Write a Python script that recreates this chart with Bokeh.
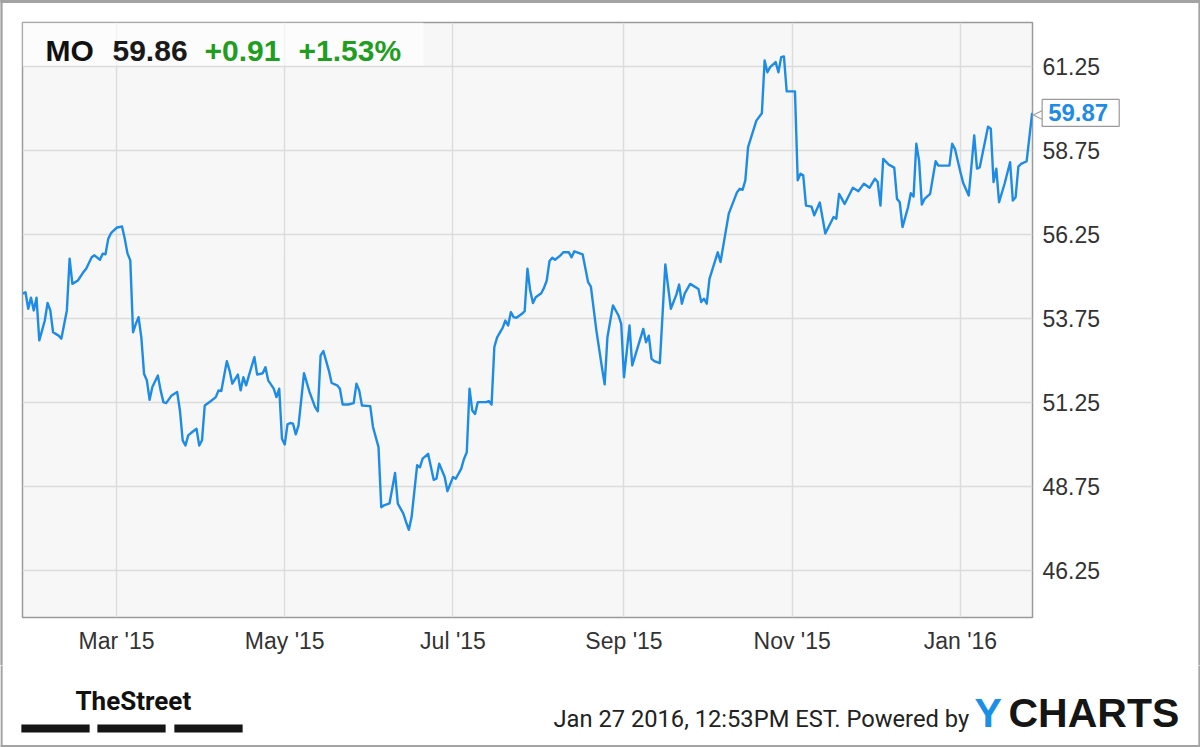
import pandas as pd
from bokeh.plotting import figure
from bokeh.layouts import column
from bokeh.models import (Range1d, FixedTicker, NumeralTickFormatter, Label,
                          BoxAnnotation, ColumnDataSource)
from bokeh.embed import file_html
from bokeh.resources import INLINE

# ---------------- data ----------------
dates = [
    "2015-01-26", "2015-01-27", "2015-01-28", "2015-01-29", "2015-01-30", "2015-01-31",
    "2015-02-01", "2015-02-02", "2015-02-03", "2015-02-04", "2015-02-05", "2015-02-06",
    "2015-02-08", "2015-02-09", "2015-02-11", "2015-02-12", "2015-02-13", "2015-02-15",
    "2015-02-17", "2015-02-18", "2015-02-20", "2015-02-21", "2015-02-23", "2015-02-24",
    "2015-02-25", "2015-02-26", "2015-02-27", "2015-03-01", "2015-03-03", "2015-03-04",
    "2015-03-05", "2015-03-06", "2015-03-07", "2015-03-08", "2015-03-09", "2015-03-10",
    "2015-03-11", "2015-03-12", "2015-03-13", "2015-03-14", "2015-03-16", "2015-03-17",
    "2015-03-18", "2015-03-19", "2015-03-21", "2015-03-23", "2015-03-24", "2015-03-25",
    "2015-03-26", "2015-03-27", "2015-03-28", "2015-03-30", "2015-03-31", "2015-04-01",
    "2015-04-02", "2015-04-04", "2015-04-06", "2015-04-07", "2015-04-08", "2015-04-10",
    "2015-04-11", "2015-04-12", "2015-04-14", "2015-04-15", "2015-04-16", "2015-04-17",
    "2015-04-18", "2015-04-20", "2015-04-21", "2015-04-23", "2015-04-24", "2015-04-25",
    "2015-04-27", "2015-04-28", "2015-04-29", "2015-04-30", "2015-05-01", "2015-05-02",
    "2015-05-03", "2015-05-04", "2015-05-05", "2015-05-06", "2015-05-08", "2015-05-10",
    "2015-05-12", "2015-05-13", "2015-05-14", "2015-05-15", "2015-05-17", "2015-05-18",
    "2015-05-20", "2015-05-21", "2015-05-22", "2015-05-24", "2015-05-26", "2015-05-27",
    "2015-05-28", "2015-05-29", "2015-06-01", "2015-06-02", "2015-06-04", "2015-06-05",
    "2015-06-06", "2015-06-08", "2015-06-10", "2015-06-11", "2015-06-13", "2015-06-14",
    "2015-06-15", "2015-06-16", "2015-06-18", "2015-06-19", "2015-06-20", "2015-06-22",
    "2015-06-24", "2015-06-25", "2015-06-26", "2015-06-28", "2015-06-29", "2015-07-01",
    "2015-07-02", "2015-07-04", "2015-07-05", "2015-07-06", "2015-07-07", "2015-07-08",
    "2015-07-09", "2015-07-10", "2015-07-13", "2015-07-14", "2015-07-15", "2015-07-16",
    "2015-07-17", "2015-07-19", "2015-07-20", "2015-07-21", "2015-07-22", "2015-07-23",
    "2015-07-24", "2015-07-26", "2015-07-27", "2015-07-28", "2015-07-29", "2015-07-30",
    "2015-07-31", "2015-08-02", "2015-08-03", "2015-08-04", "2015-08-05", "2015-08-06",
    "2015-08-07", "2015-08-09", "2015-08-10", "2015-08-12", "2015-08-13", "2015-08-14",
    "2015-08-15", "2015-08-17", "2015-08-19", "2015-08-20", "2015-08-22", "2015-08-24",
    "2015-08-25", "2015-08-26", "2015-08-28", "2015-08-30", "2015-08-31", "2015-09-01",
    "2015-09-03", "2015-09-04", "2015-09-06", "2015-09-08", "2015-09-09", "2015-09-10",
    "2015-09-11", "2015-09-12", "2015-09-14", "2015-09-16", "2015-09-18", "2015-09-20",
    "2015-09-21", "2015-09-22", "2015-09-23", "2015-09-25", "2015-09-28", "2015-09-29",
    "2015-09-30", "2015-10-01", "2015-10-02", "2015-10-05", "2015-10-06", "2015-10-09",
    "2015-10-12", "2015-10-13", "2015-10-14", "2015-10-15", "2015-10-16", "2015-10-19",
    "2015-10-21", "2015-10-22", "2015-10-23", "2015-10-24", "2015-10-26", "2015-10-27",
    "2015-10-28", "2015-10-29", "2015-10-30", "2015-11-02", "2015-11-03", "2015-11-04",
    "2015-11-05", "2015-11-06", "2015-11-08", "2015-11-09", "2015-11-11", "2015-11-13",
    "2015-11-16", "2015-11-17", "2015-11-18", "2015-11-20", "2015-11-23", "2015-11-25",
    "2015-11-27", "2015-11-29", "2015-12-01", "2015-12-02", "2015-12-03", "2015-12-04",
    "2015-12-06", "2015-12-08", "2015-12-09", "2015-12-10", "2015-12-11", "2015-12-13",
    "2015-12-14", "2015-12-15", "2015-12-16", "2015-12-17", "2015-12-18", "2015-12-19",
    "2015-12-21", "2015-12-23", "2015-12-24", "2015-12-28", "2015-12-29", "2015-12-30",
    "2016-01-01", "2016-01-02", "2016-01-04", "2016-01-06", "2016-01-07", "2016-01-08",
    "2016-01-11", "2016-01-12", "2016-01-13", "2016-01-14", "2016-01-15", "2016-01-17",
    "2016-01-19", "2016-01-20", "2016-01-21", "2016-01-22", "2016-01-23", "2016-01-25",
    "2016-01-27",
]
prices = [
    54.49, 54.53, 54.04, 54.37, 53.99, 54.37,
    53.10, 53.39, 53.69, 54.21, 53.99, 53.34,
    53.24, 53.15, 53.99, 55.53, 54.78, 54.88,
    55.13, 55.23, 55.57, 55.63, 55.50, 55.68,
    55.66, 56.12, 56.29, 56.45, 56.49, 56.12,
    55.68, 55.48, 53.34, 53.59, 53.79, 53.19,
    52.10, 51.91, 51.33, 51.71, 52.05, 51.61,
    51.26, 51.23, 51.46, 51.56, 51.01, 50.12,
    49.97, 50.27, 50.34, 50.47, 49.97, 50.12,
    51.16, 51.28, 51.41, 51.61, 51.59, 52.48,
    52.20, 51.81, 52.08, 51.61, 52.00, 51.76,
    52.05, 52.60, 52.08, 52.12, 52.30, 51.91,
    51.66, 51.41, 51.66, 50.17, 50.00, 50.60,
    50.64, 50.62, 50.30, 50.57, 52.12, 51.56,
    51.11, 50.99, 52.65, 52.78, 52.20, 51.83,
    51.76, 51.66, 51.19, 51.19, 51.23, 51.81,
    51.61, 51.16, 51.14, 50.52, 49.92, 48.13,
    48.19, 48.25, 49.15, 48.24, 47.94, 47.69,
    47.46, 47.84, 49.38, 49.32, 49.58, 49.72,
    48.95, 48.98, 49.43, 49.03, 48.61, 49.03,
    48.98, 49.28, 49.57, 49.77, 51.66, 51.01,
    50.91, 51.26, 51.26, 51.29, 51.19, 52.90,
    53.19, 53.47, 53.69, 53.54, 53.94, 53.79,
    53.77, 53.89, 53.97, 55.23, 54.58, 54.21,
    54.38, 54.50, 54.66, 54.88, 55.46, 55.56,
    55.50, 55.63, 55.72, 55.72, 55.57, 55.75,
    55.72, 55.66, 54.83, 54.70, 53.39, 52.30,
    51.79, 53.19, 54.14, 53.84, 53.59, 52.00,
    53.54, 52.35, 52.90, 53.44, 53.04, 53.24,
    52.55, 52.48, 52.42, 55.36, 54.04, 54.46,
    54.76, 54.19, 54.49, 54.78, 54.63, 54.24,
    54.34, 54.19, 54.93, 55.72, 55.43, 56.87,
    57.51, 57.61, 57.58, 57.86, 58.85, 59.64,
    59.86, 61.43, 61.08, 61.23, 61.38, 61.08,
    61.53, 61.55, 60.51, 60.51, 57.86, 58.06,
    58.01, 57.11, 57.08, 56.82, 57.20, 56.28,
    56.77, 56.72, 57.46, 57.16, 57.64, 57.54,
    57.76, 57.64, 57.91, 57.81, 57.11, 58.50,
    58.33, 58.24, 57.31, 57.21, 56.47, 57.06,
    57.48, 57.38, 58.95, 58.45, 57.14, 57.31,
    57.46, 58.43, 58.30, 58.30, 58.95, 58.80,
    58.10, 57.78, 57.41, 59.20, 58.21, 58.25,
    59.46, 59.40, 57.81, 58.21, 57.21, 57.76,
    58.40, 57.26, 57.36, 58.27, 58.35, 58.43,
    59.87,
]

ticker_symbol = "MO"
quote_price = "59.86"
quote_change = "+0.91"
quote_change_pct = "+1.53%"

x_tick_dates = ["2015-03-01", "2015-05-01", "2015-07-01", "2015-09-01", "2015-11-01", "2016-01-01"]
x_tick_labels = ["Mar '15", "May '15", "Jul '15", "Sep '15", "Nov '15", "Jan '16"]
y_ticks = [46.25, 48.75, 51.25, 53.75, 56.25, 58.75, 61.25]

timestamp_text = "Jan 27 2016, 12:53PM EST.  Powered by"
logo_left = "TheStreet"
logo_y = "Y"
logo_rest = "CHARTS"

# ---------------- main chart ----------------
FONT = "Liberation Sans"
LINE_BLUE = "#1e8ce6"
GREEN = "#1f9e1f"
EDGE = "#a3a3a3"

src = ColumnDataSource(dict(date=pd.to_datetime(dates), price=prices))

W, H_MAIN, H_FOOT = 1200, 665, 82
p = figure(
    width=W, height=H_MAIN, x_axis_type="datetime", y_axis_location="right",
    output_backend="svg", toolbar_location=None,
    x_range=Range1d(pd.Timestamp("2015-01-25 22:00").to_pydatetime(),
                    pd.Timestamp("2016-01-27 03:00").to_pydatetime()),
    y_range=Range1d(44.85, 62.56),
    min_border_left=22, min_border_top=22, min_border_right=168, min_border_bottom=48,
)
p.frame_align = False
p.background_fill_color = "#f7f7f7"
p.border_fill_color = "white"
p.outline_line_color = "#9a9a9a"
p.outline_line_width = 1.5

tick_ms = [float(pd.Timestamp(d).value // 10**6) for d in x_tick_dates]
p.xaxis.ticker = FixedTicker(ticks=tick_ms)
p.xaxis.major_label_overrides = {t: lab for t, lab in zip(tick_ms, x_tick_labels)}
p.yaxis.ticker = FixedTicker(ticks=y_ticks)
p.yaxis.formatter = NumeralTickFormatter(format="0.00")

for ax in (p.xaxis[0], p.yaxis[0]):
    ax.axis_line_color = None
    ax.major_tick_line_color = None
    ax.minor_tick_line_color = None
    ax.major_tick_in = 0
    ax.major_tick_out = 0
    ax.major_label_text_font = FONT
    ax.major_label_text_font_size = "23px"
    ax.major_label_text_color = "#333333"
    ax.major_label_standoff = 10

p.xgrid.grid_line_color = "#dcdcdc"
p.ygrid.grid_line_color = "#dcdcdc"
p.xgrid.grid_line_width = 1.5
p.ygrid.grid_line_width = 1.5

p.line(x="date", y="price", source=src, line_color=LINE_BLUE, line_width=2.4,
       line_join="round")

# header quote box
p.add_layout(BoxAnnotation(left=22, right=423, top=22, bottom=65,
                           left_units="canvas", right_units="canvas",
                           top_units="canvas", bottom_units="canvas",
                           fill_color="white", fill_alpha=0.65, line_color=None))


def make_label(x, y, text, size, color, style="normal", font=FONT, align="left", **kw):
    return Label(x=x, y=y, x_units="canvas", y_units="canvas", text=text,
                 text_font=font, text_font_size=size, text_color=color,
                 text_font_style=style, text_baseline="middle",
                 text_align=align, **kw)


def edge(cx, cy, half_w, half_h):
    # a thin filled bar used for the picture's outer border
    return make_label(cx, cy, "\u00a0", "1px", EDGE, align="center",
                      background_fill_color=EDGE,
                      padding=dict(left=half_w, right=half_w, top=half_h, bottom=half_h))


p.add_layout(make_label(45, 50, ticker_symbol, "30px", "#111111", "bold"))
p.add_layout(make_label(112, 50, quote_price, "30px", "#1a1a1a", "bold"))
p.add_layout(make_label(204, 50, quote_change, "30px", GREEN, "bold"))
p.add_layout(make_label(298, 50, quote_change_pct, "30px", GREEN, "bold"))

# last value callout (in the right side panel, so it is not clipped by the frame)
p.add_layout(make_label(1046, 112, "\u25C1", "19px", "#9a9a9a", font="DejaVu Sans",
                        align="right"), "right")
p.add_layout(Label(x=pd.Timestamp(dates[-1]).to_pydatetime(), y=prices[-1],
                   x_offset=10, text=f"{prices[-1]:.2f}",
                   text_font=FONT, text_font_size="24px", text_font_style="bold",
                   text_color=LINE_BLUE, text_baseline="middle", text_align="left",
                   background_fill_color="white", border_line_color="#9a9a9a",
                   border_line_width=1.2,
                   padding=dict(left=6, right=11, top=5, bottom=5)), "right")

# outer border of the picture (upper part)
p.add_layout(edge(1, 333, 1, 333), "left")
p.add_layout(edge(1199, 333, 1, 333), "left")
p.add_layout(edge(600, 1, 600, 1), "above")

# ---------------- footer ----------------
f = figure(width=W, height=H_FOOT, x_axis_type=None, y_axis_type=None,
           output_backend="svg", toolbar_location=None, min_border=0)
f.frame_align = False
f.outline_line_color = None
f.background_fill_color = "white"
f.border_fill_color = "white"

f.add_layout(make_label(75, 35, logo_left, "26px", "#111111", "bold", font="Roboto"))
for cx in (55, 131, 208):
    f.add_layout(make_label(cx, 63, "\u00a0", "1px", "#151515", align="center",
                            background_fill_color="#151515",
                            padding=dict(left=34, right=34, top=4, bottom=3)))
f.add_layout(make_label(553, 53, timestamp_text, "23.7px", "#222222", font="Roboto"))
f.add_layout(make_label(974, 47, logo_y, "41px", "#1a8fe8", "bold"))
f.add_layout(make_label(1008, 47, logo_rest, "41px", "#151515", "bold"))

# outer border of the picture (lower part)
f.add_layout(edge(1, 41, 1, 41))
f.add_layout(edge(1199, 41, 1, 41))
f.add_layout(edge(600, 81, 600, 1))

layout = column(p, f, spacing=0)

open("out.html", "w").write(file_html(layout, INLINE))
